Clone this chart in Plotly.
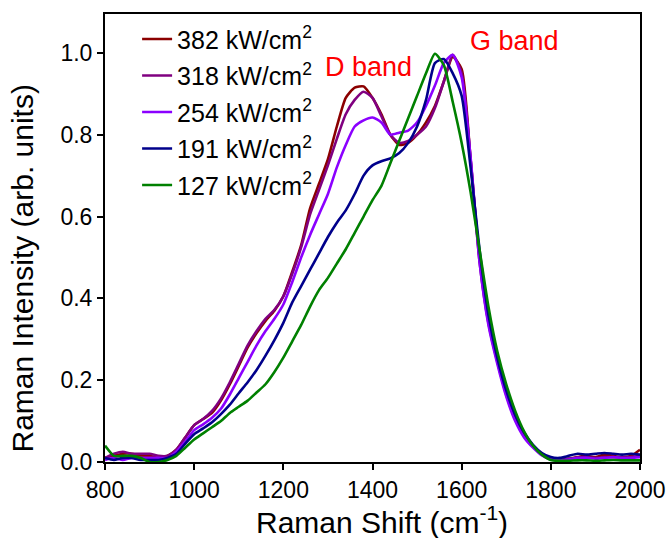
import plotly.graph_objects as go

shift = [800, 820, 840, 860, 880, 900, 920, 940, 960, 980,
         1000, 1020, 1040, 1060, 1080, 1100, 1120, 1140, 1160, 1180,
         1200, 1220, 1240, 1260, 1280, 1300, 1320, 1340, 1360, 1380,
         1400, 1420, 1440, 1460, 1480, 1500, 1520, 1540, 1560, 1580,
         1600, 1620, 1640, 1660, 1680, 1700, 1720, 1740, 1760, 1780,
         1800, 1820, 1840, 1860, 1880, 1900, 1920, 1940, 1960, 1980, 2000]

p382 = [0.010, 0.015, 0.020, 0.020, 0.015, 0.015, 0.010, 0.015, 0.030, 0.060,
        0.090, 0.105, 0.120, 0.150, 0.190, 0.235, 0.280, 0.315, 0.345, 0.370,
        0.405, 0.465, 0.530, 0.620, 0.680, 0.740, 0.820, 0.890, 0.915, 0.918,
        0.890, 0.850, 0.800, 0.775, 0.780, 0.800, 0.830, 0.870, 0.930, 0.990,
        0.960, 0.740, 0.500, 0.350, 0.250, 0.170, 0.110, 0.068, 0.040, 0.020,
        0.010, 0.006, 0.008, 0.012, 0.015, 0.012, 0.018, 0.015, 0.012, 0.015, 0.030]

p318 = [0.010, 0.020, 0.025, 0.020, 0.020, 0.020, 0.015, 0.015, 0.030, 0.060,
        0.090, 0.105, 0.125, 0.155, 0.195, 0.240, 0.285, 0.320, 0.350, 0.372,
        0.405, 0.460, 0.525, 0.605, 0.665, 0.725, 0.790, 0.850, 0.885, 0.905,
        0.890, 0.845, 0.800, 0.780, 0.785, 0.800, 0.820, 0.865, 0.930, 0.995,
        0.950, 0.740, 0.490, 0.340, 0.245, 0.165, 0.105, 0.065, 0.038, 0.018,
        0.008, 0.005, 0.008, 0.010, 0.012, 0.010, 0.012, 0.012, 0.010, 0.012, 0.015]

p254 = [0.005, 0.010, 0.005, 0.010, 0.010, 0.010, 0.010, 0.010, 0.025, 0.050,
        0.078, 0.092, 0.108, 0.130, 0.165, 0.205, 0.245, 0.285, 0.320, 0.350,
        0.385, 0.440, 0.500, 0.555, 0.605, 0.655, 0.720, 0.775, 0.820, 0.835,
        0.842, 0.830, 0.800, 0.805, 0.810, 0.830, 0.870, 0.920, 0.975, 0.995,
        0.940, 0.745, 0.490, 0.335, 0.240, 0.160, 0.100, 0.060, 0.035, 0.016,
        0.006, 0.004, 0.006, 0.010, 0.010, 0.008, 0.010, 0.012, 0.010, 0.010, 0.012]

p191 = [0.010, 0.005, 0.010, 0.010, 0.005, 0.005, 0.005, 0.010, 0.020, 0.045,
        0.068, 0.082, 0.097, 0.117, 0.140, 0.168, 0.195, 0.225, 0.260, 0.298,
        0.340, 0.390, 0.430, 0.470, 0.510, 0.550, 0.585, 0.615, 0.655, 0.700,
        0.725, 0.735, 0.742, 0.755, 0.780, 0.820, 0.885, 0.975, 0.985, 0.950,
        0.895, 0.720, 0.520, 0.360, 0.255, 0.175, 0.115, 0.072, 0.042, 0.022,
        0.012, 0.010, 0.015, 0.020, 0.018, 0.020, 0.022, 0.020, 0.018, 0.020, 0.018]

p127 = [0.040, 0.015, 0.015, 0.015, 0.010, 0.000, 0.000, 0.005, 0.015, 0.035,
        0.055, 0.070, 0.085, 0.100, 0.120, 0.135, 0.150, 0.170, 0.190, 0.220,
        0.255, 0.295, 0.335, 0.380, 0.420, 0.450, 0.485, 0.520, 0.560, 0.600,
        0.640, 0.675, 0.730, 0.785, 0.840, 0.895, 0.950, 0.998, 0.970, 0.880,
        0.780, 0.660, 0.520, 0.380, 0.270, 0.190, 0.125, 0.075, 0.040, 0.018,
        0.005, 0.003, 0.003, 0.004, 0.004, 0.003, 0.004, 0.005, 0.004, 0.004, 0.004]

names = ["382 kW/cm<sup>2</sup>", "318 kW/cm<sup>2</sup>", "254 kW/cm<sup>2</sup>",
         "191 kW/cm<sup>2</sup>", "127 kW/cm<sup>2</sup>"]
series = [p382, p318, p254, p191, p127]
colors = ["#8B0000", "#800080", "#8B00FF", "#00008B", "#008000"]

fig = go.Figure()
for i, (nm, ys, c) in enumerate(zip(names, series, colors)):
    fig.add_trace(go.Scatter(x=shift, y=ys, mode="lines", name=nm,
                             legendgroup=str(i),
                             line=dict(color=c, width=2.6, shape="spline", smoothing=0.6)))

font_family = "Liberation Sans, Arial, sans-serif"
axis_common = dict(showline=True, linecolor="black", linewidth=2, mirror=True,
                   ticks="outside", ticklen=6, tickwidth=2, tickcolor="black",
                   showgrid=False, zeroline=False, automargin=False,
                   tickfont=dict(size=23, color="black", family=font_family))

fig.update_layout(
    width=670, height=538,
    margin=dict(l=105, r=30, t=14, b=76),
    paper_bgcolor="white", plot_bgcolor="white",
    font=dict(family=font_family, color="black"),
    xaxis=dict(range=[800, 2000], tickvals=[800, 1000, 1200, 1400, 1600, 1800, 2000],
               **axis_common),
    yaxis=dict(range=[0, 1.095], tickvals=[0, 0.2, 0.4, 0.6, 0.8, 1.0], tickformat=".1f",
               **axis_common),
    legend=dict(x=0.06, y=0.995, xanchor="left", yanchor="top",
                bgcolor="rgba(0,0,0,0)", font=dict(size=25, family=font_family),
                tracegroupgap=1),
    showlegend=True,
)

# axis titles
fig.add_annotation(xref="paper", yref="paper", x=0.518, y=-0.129,
                   text="Raman Shift (cm<sup>-1</sup>)", showarrow=False,
                   xanchor="center", yanchor="middle",
                   font=dict(size=30, color="black", family=font_family))
fig.add_annotation(xref="paper", yref="paper", x=-0.155, y=0.432,
                   text="Raman Intensity (arb. units)", showarrow=False, textangle=-90,
                   xanchor="center", yanchor="middle",
                   font=dict(size=30, color="black", family=font_family))

fig.add_annotation(x=1392, y=0.965, text="D band", showarrow=False,
                   font=dict(size=27, color="#FF0000", family=font_family))
fig.add_annotation(x=1718, y=1.03, text="G band", showarrow=False,
                   font=dict(size=27, color="#FF0000", family=font_family))

fig.write_html("out.html")
